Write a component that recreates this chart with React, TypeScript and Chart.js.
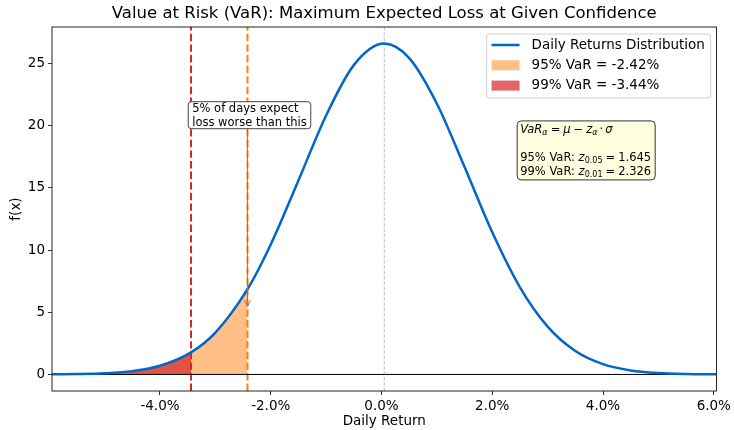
import React, { useEffect, useRef } from "react";
import { Chart, registerables } from "chart.js";

Chart.register(...registerables);

const FONT = "'DejaVu Sans', 'Liberation Sans', sans-serif";

// Daily return grid (in percent) and the density of the returns distribution
const returnsPct = [
  -5.95, -5.5, -5.0, -4.5, -4.0, -3.44, -3.0, -2.42, -2.0, -1.5, -1.0, -0.5, 0.05,
  0.5, 1.0, 1.5, 2.0, 2.5, 3.0, 3.5, 4.0, 4.5, 5.0, 5.5, 6.05,
];
const density = [
  0.0089, 0.0283, 0.092, 0.2673, 0.6947, 1.775, 3.366, 6.855, 10.452, 15.594, 20.817, 24.867,
  26.596, 25.426, 21.763, 16.67, 11.425, 7.006, 3.845, 1.888, 0.83, 0.3263, 0.1148, 0.0362, 0.0089,
];

const meanReturn = 0.05;
const var95 = -2.42;
const var99 = -3.44;
const z95 = 1.645;
const z99 = 2.326;
const arrowTipDensity = 5.48;
const noteCenterDensity = 20.8;

const xTicks = [-4, -2, 0, 2, 4, 6];
const yTicks = [0, 5, 10, 15, 20, 25];
const xLimits = [-5.95, 6.05];
const yLimits = [-1.33, 27.93];

const CURVE = "#0066cc";
const FILL95 = "rgba(255,127,14,0.5)";
const FILL99 = "rgba(214,39,40,0.7)";
const LINE95 = "#ff7f0e";
const LINE99 = "#d62728";

type Seg = { t: string; italic?: boolean; sub?: boolean; gap?: number };

function drawSegments(ctx: CanvasRenderingContext2D, segs: Seg[], x: number, y: number, size: number) {
  let cx = x;
  for (const s of segs) {
    cx += s.gap ?? 0;
    const fs = s.sub ? size * 0.7 : size;
    ctx.font = `${s.italic ? "italic " : ""}${fs}px ${FONT}`;
    ctx.fillText(s.t, cx, s.sub ? y + size * 0.28 : y);
    cx += ctx.measureText(s.t).width;
  }
}

function roundRect(ctx: CanvasRenderingContext2D, x: number, y: number, w: number, h: number, r: number) {
  ctx.beginPath();
  ctx.moveTo(x + r, y);
  ctx.lineTo(x + w - r, y);
  ctx.arcTo(x + w, y, x + w, y + r, r);
  ctx.lineTo(x + w, y + h - r);
  ctx.arcTo(x + w, y + h, x + w - r, y + h, r);
  ctx.lineTo(x + r, y + h);
  ctx.arcTo(x, y + h, x, y + h - r, r);
  ctx.lineTo(x, y + r);
  ctx.arcTo(x, y, x + r, y, r);
  ctx.closePath();
}

const decorations = {
  id: "decorations",
  afterDraw(chart: any) {
    const { ctx, chartArea: a, scales } = chart;
    const xs = scales.x;
    const ys = scales.y;
    const W = a.right - a.left;
    const H = a.bottom - a.top;
    ctx.save();

    // axes frame
    ctx.strokeStyle = "#222";
    ctx.lineWidth = 1;
    ctx.strokeRect(a.left, a.top, W, H);

    // title and axis titles
    ctx.fillStyle = "#000";
    ctx.textAlign = "center";
    ctx.textBaseline = "middle";
    ctx.font = `16.5px ${FONT}`;
    ctx.fillText("Value at Risk (VaR): Maximum Expected Loss at Given Confidence", (a.left + a.right) / 2, 14);
    ctx.font = `13.5px ${FONT}`;
    ctx.fillText("Daily Return", (a.left + a.right) / 2, 421);
    ctx.save();
    ctx.translate(16, (a.top + a.bottom) / 2);
    ctx.rotate(-Math.PI / 2);
    ctx.fillText("f(x)", 0, 0);
    ctx.restore();

    // annotation pointing at the 95% cut-off
    const ax = xs.getPixelForValue(var95);
    const tipY = ys.getPixelForValue(arrowTipDensity);
    const cy = ys.getPixelForValue(noteCenterDensity);
    const noteLines = ["5% of days expect", "loss worse than this"];
    ctx.font = `11.5px ${FONT}`;
    const textW = Math.max(...noteLines.map((l) => ctx.measureText(l).width));
    const nw = textW + 8;
    const boxLeft = ax + 2 - nw / 2;
    const boxTop = cy - 14;
    const boxH = 27;
    ctx.strokeStyle = "#808080";
    ctx.lineWidth = 1;
    ctx.beginPath();
    ctx.moveTo(ax, boxTop + boxH);
    ctx.lineTo(ax, tipY);
    ctx.moveTo(ax - 3, tipY - 6);
    ctx.lineTo(ax, tipY);
    ctx.lineTo(ax + 3, tipY - 6);
    ctx.stroke();
    roundRect(ctx, boxLeft, boxTop, nw, boxH, 3);
    ctx.fillStyle = "#fff";
    ctx.fill();
    ctx.strokeStyle = "#444";
    ctx.stroke();
    ctx.fillStyle = "#000";
    ctx.textAlign = "left";
    ctx.fillText(noteLines[0], boxLeft + 4, cy - 7);
    ctx.fillText(noteLines[1], boxLeft + 4, cy + 7);

    // formula box
    const bx = a.left + 0.7 * W;
    const by = a.top + 0.258 * H;
    roundRect(ctx, bx, by, 138, 59, 4);
    ctx.fillStyle = "#ffffe0";
    ctx.fill();
    ctx.strokeStyle = "#333";
    ctx.stroke();
    ctx.fillStyle = "#000";
    ctx.textAlign = "left";
    const fs = 11.5;
    const tx = bx + 3;
    drawSegments(
      ctx,
      [
        { t: "VaR", italic: true },
        { t: "α", italic: true, sub: true },
        { t: "=", gap: 3 },
        { t: "μ", italic: true, gap: 3 },
        { t: "−", gap: 3 },
        { t: "z", italic: true, gap: 3 },
        { t: "α", italic: true, sub: true },
        { t: "·", gap: 2 },
        { t: "σ", italic: true, gap: 2 },
      ],
      tx,
      by + 9,
      fs
    );
    drawSegments(
      ctx,
      [
        { t: "95% VaR: " },
        { t: "z", italic: true },
        { t: "0.05", sub: true },
        { t: "=", gap: 3 },
        { t: z95.toFixed(3), gap: 3 },
      ],
      tx,
      by + 37,
      fs
    );
    drawSegments(
      ctx,
      [
        { t: "99% VaR: " },
        { t: "z", italic: true },
        { t: "0.01", sub: true },
        { t: "=", gap: 3 },
        { t: z99.toFixed(3), gap: 3 },
      ],
      tx,
      by + 51,
      fs
    );

    // legend
    const lw = 224;
    const lx = a.right - 6 - lw;
    const ly = a.top + 7;
    roundRect(ctx, lx, ly, lw, 64, 3);
    ctx.fillStyle = "rgba(255,255,255,0.8)";
    ctx.fill();
    ctx.strokeStyle = "#d0d0d0";
    ctx.stroke();
    const rows = [
      { label: "Daily Returns Distribution", kind: "line", color: CURVE },
      { label: `95% VaR = ${var95.toFixed(2)}%`, kind: "patch", color: FILL95 },
      { label: `99% VaR = ${var99.toFixed(2)}%`, kind: "patch", color: FILL99 },
    ];
    ctx.font = `13.5px ${FONT}`;
    ctx.textBaseline = "middle";
    rows.forEach((r, i) => {
      const ry = ly + 11 + i * 20.3;
      if (r.kind === "line") {
        ctx.strokeStyle = r.color;
        ctx.lineWidth = 2.5;
        ctx.beginPath();
        ctx.moveTo(lx + 5, ry);
        ctx.lineTo(lx + 33, ry);
        ctx.stroke();
      } else {
        ctx.fillStyle = r.color;
        ctx.fillRect(lx + 5, ry - 5, 28, 10);
      }
      ctx.fillStyle = "#000";
      ctx.fillText(r.label, lx + 45, ry);
    });

    ctx.restore();
  },
};

export default function App() {
  const canvasRef = useRef<HTMLCanvasElement | null>(null);

  useEffect(() => {
    if (!canvasRef.current) return;
    const points = returnsPct.map((x, i) => ({ x, y: density[i] }));
    const tail95 = points.filter((p) => p.x <= var95);
    const tail99 = points.filter((p) => p.x <= var99);

    const vline = (x: number) => [
      { x, y: yLimits[0] },
      { x, y: yLimits[1] },
    ];

    const tickStyle = {
      color: "#000",
      font: { family: FONT, size: 13.5 },
      padding: 3,
      autoSkip: false,
      maxRotation: 0,
    };
    const gridStyle = {
      drawOnChartArea: false,
      drawTicks: true,
      tickLength: 4,
      color: "#333",
    };

    const chart = new Chart(canvasRef.current, {
      type: "line",
      data: {
        datasets: [
          {
            label: "Daily Returns Distribution",
            data: points,
            borderColor: CURVE,
            borderWidth: 2.5,
            cubicInterpolationMode: "monotone",
            fill: false,
            order: 0,
          },
          {
            label: "zero",
            data: [
              { x: xLimits[0], y: 0 },
              { x: xLimits[1], y: 0 },
            ],
            borderColor: "#000",
            borderWidth: 1,
            fill: false,
            order: 1,
          },
          {
            label: "var99 line",
            data: vline(var99),
            borderColor: LINE99,
            borderWidth: 2,
            borderDash: [7.4, 3.2],
            fill: false,
            order: 2,
          },
          {
            label: "var95 line",
            data: vline(var95),
            borderColor: LINE95,
            borderWidth: 2,
            borderDash: [7.4, 3.2],
            fill: false,
            order: 3,
          },
          {
            label: "mean",
            data: vline(meanReturn),
            borderColor: "rgba(128,128,128,0.5)",
            borderWidth: 1,
            borderDash: [3.7, 1.6],
            fill: false,
            order: 4,
          },
          {
            label: "99% tail",
            data: tail99,
            borderWidth: 0,
            borderColor: "rgba(0,0,0,0)",
            backgroundColor: FILL99,
            cubicInterpolationMode: "monotone",
            fill: "origin",
            order: 5,
          },
          {
            label: "95% tail",
            data: tail95,
            borderWidth: 0,
            borderColor: "rgba(0,0,0,0)",
            backgroundColor: FILL95,
            cubicInterpolationMode: "monotone",
            fill: "origin",
            order: 6,
          },
        ],
      },
      options: {
        animation: false,
        responsive: false,
        maintainAspectRatio: false,
        layout: { padding: { left: 0, right: 17, top: 27, bottom: 0 } },
        elements: { point: { radius: 0, hoverRadius: 0 } },
        plugins: {
          legend: { display: false },
          tooltip: { enabled: false },
          title: { display: false },
        },
        events: [],
        scales: {
          x: {
            type: "linear",
            min: xLimits[0],
            max: xLimits[1],
            afterBuildTicks: (s: any) => {
              s.ticks = xTicks.map((v) => ({ value: v }));
            },
            afterFit: (s: any) => {
              s.height = 39;
            },
            grid: gridStyle,
            border: { display: false },
            ticks: { ...tickStyle, callback: (v: any) => `${Number(v).toFixed(1)}%` },
          },
          y: {
            type: "linear",
            min: yLimits[0],
            max: yLimits[1],
            afterBuildTicks: (s: any) => {
              s.ticks = yTicks.map((v) => ({ value: v }));
            },
            afterFit: (s: any) => {
              s.width = 52;
            },
            grid: gridStyle,
            border: { display: false },
            ticks: { ...tickStyle, callback: (v: any) => `${v}` },
          },
        },
      },
      plugins: [decorations],
    } as any);

    return () => chart.destroy();
  }, []);

  return (
    <div style={{ position: "fixed", left: 0, top: 0, width: 734, height: 430, background: "#fff" }}>
      <canvas ref={canvasRef} width={734} height={430} style={{ display: "block", width: 734, height: 430 }} />
    </div>
  );
}
